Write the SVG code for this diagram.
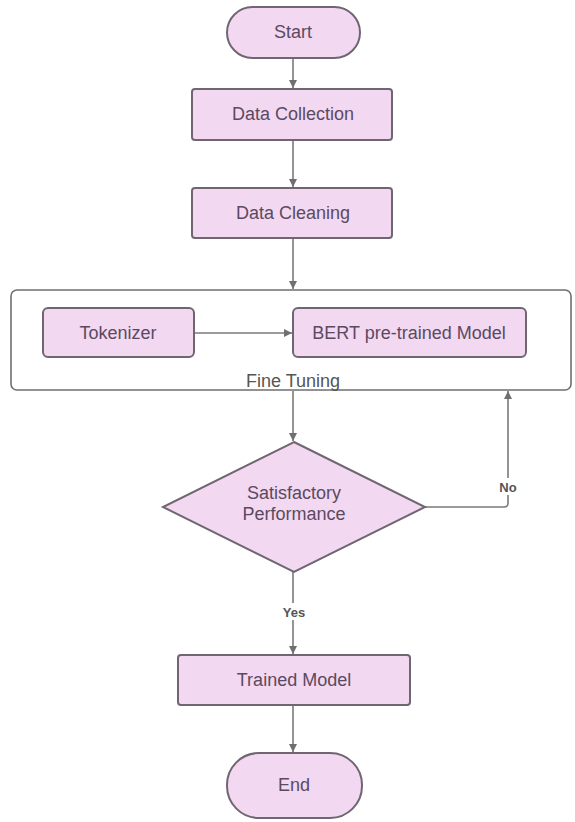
<svg xmlns="http://www.w3.org/2000/svg" width="575" height="822" viewBox="0 0 575 822">
  <style>
    .node { fill: #f3d8f2; stroke: #6f6672; stroke-width: 2; }
    .label { font-family: "Liberation Sans", Arial, sans-serif; font-size: 18px; fill: #5b4a5f; text-anchor: middle; }
    .edge { fill: none; stroke: #7a7a7a; stroke-width: 1.6; }
    .tag { font-family: "Liberation Sans", Arial, sans-serif; font-size: 13px; font-weight: bold; fill: #555; text-anchor: middle; }
    .frame { fill: #ffffff; stroke: #6f6f6f; stroke-width: 1.6; }
  </style>
  <defs>
    <marker id="arrow" viewBox="0 0 10 10" refX="10" refY="5" markerWidth="8" markerHeight="8" markerUnits="userSpaceOnUse" orient="auto">
      <path d="M0,0 L10,5 L0,10 z" fill="#6f6f6f"/>
    </marker>
  </defs>
  <rect width="575" height="822" fill="#ffffff"/>

  <!-- Fine tuning container -->
  <g id="fine-tuning">
    <rect class="frame" x="11" y="290" width="560" height="100" rx="6"/>
    <text class="label" x="293" y="387" fill="#555" style="fill:#555">Fine Tuning</text>
  </g>

  <g id="connectors">
    <line class="edge" x1="293" y1="58" x2="293" y2="88" marker-end="url(#arrow)"/>
    <line class="edge" x1="293" y1="140" x2="293" y2="187" marker-end="url(#arrow)"/>
    <line class="edge" x1="293" y1="238" x2="293" y2="289" marker-end="url(#arrow)"/>
    <line class="edge" x1="194" y1="333" x2="292" y2="333" marker-end="url(#arrow)"/>
    <line class="edge" x1="293" y1="391" x2="293" y2="441" marker-end="url(#arrow)"/>
    <path class="edge" d="M425,507 L504,507 Q508,507 508,503 L508,391" marker-end="url(#arrow)"/>
    <line class="edge" x1="293" y1="572" x2="293" y2="654" marker-end="url(#arrow)"/>
    <line class="edge" x1="293" y1="705" x2="293" y2="752" marker-end="url(#arrow)"/>
    <rect x="496" y="478" width="24" height="17" fill="#ffffff"/>
    <text class="tag" x="508" y="492">No</text>
    <rect x="279" y="603" width="30" height="17" fill="#ffffff"/>
    <text class="tag" x="294" y="617">Yes</text>
  </g>

  <g id="start">
    <rect class="node" x="227" y="7" width="133" height="51" rx="25.5"/>
    <text class="label" x="293" y="38">Start</text>
  </g>
  <g id="data-collection">
    <rect class="node" x="192" y="89" width="200" height="51" rx="3"/>
    <text class="label" x="293" y="120">Data Collection</text>
  </g>
  <g id="data-cleaning">
    <rect class="node" x="192" y="188" width="200" height="50" rx="3"/>
    <text class="label" x="293" y="219">Data Cleaning</text>
  </g>
  <g id="tokenizer">
    <rect class="node" x="43" y="308" width="151" height="49" rx="5"/>
    <text class="label" x="118" y="339">Tokenizer</text>
  </g>
  <g id="bert">
    <rect class="node" x="293" y="308" width="233" height="49" rx="5"/>
    <text class="label" x="409" y="339">BERT pre-trained Model</text>
  </g>
  <g id="decision">
    <polygon class="node" points="294,442 425,507 294,572 163,507"/>
    <text class="label" x="294" y="499">Satisfactory</text>
    <text class="label" x="294" y="520">Performance</text>
  </g>
  <g id="trained-model">
    <rect class="node" x="178" y="655" width="232" height="50" rx="3"/>
    <text class="label" x="294" y="686">Trained Model</text>
  </g>
  <g id="end">
    <rect class="node" x="227" y="753" width="135" height="65" rx="32"/>
    <text class="label" x="294" y="791">End</text>
  </g>
</svg>
